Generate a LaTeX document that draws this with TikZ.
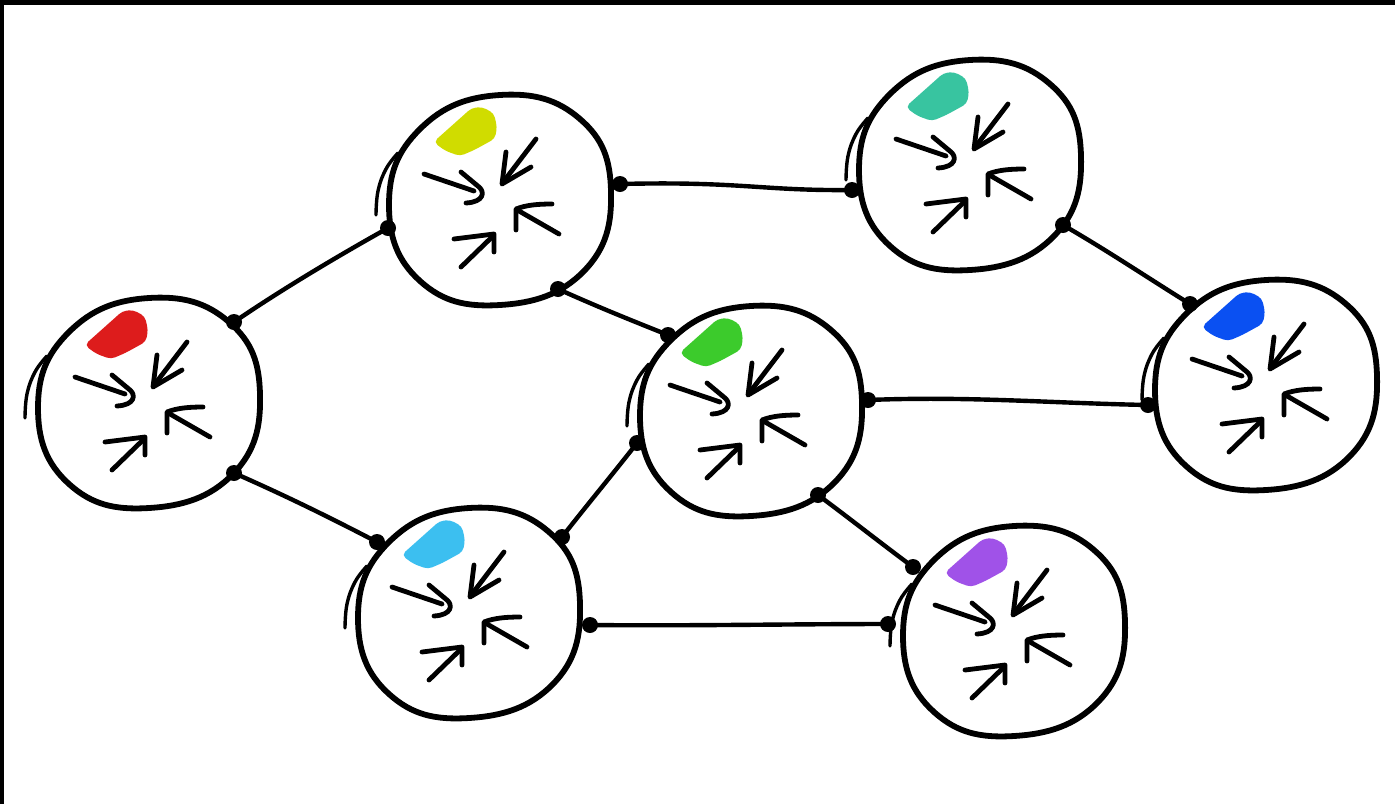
\documentclass[tikz,border=0pt]{standalone}
\begin{document}
\definecolor{cred}{HTML}{DD1C1C}
\definecolor{cyel}{HTML}{D0DC00}
\definecolor{cteal}{HTML}{38C4A0}
\definecolor{cgreen}{HTML}{3CCB2C}
\definecolor{cblue}{HTML}{0A50F2}
\definecolor{ccyan}{HTML}{3CBFF0}
\definecolor{cpurp}{HTML}{A052E8}
\tikzset{
  ring/.style={line width=2.9pt, line join=round},
  hair/.style={line width=1.7pt, line cap=round},
  arw/.style={line width=2.4pt, line cap=round, line join=round},
  link/.style={line width=2.2pt, line cap=round},
  blob/.style={fill=black},
}
\newcommand\drawunit[5]{%
  \coordinate (#1) at (#2,#3);
  \begin{scope}[shift={(#2+#4,#3)}]
    \draw[ring] plot[smooth cycle, tension=0.75] coordinates
      {(0,-104) (80,-80) (111,-8) (84,72) (0,106) (-80,82) (-111,6) (-80,-70)};
    \draw[hair] plot[smooth, tension=0.7] coordinates
      {(-124,16) (-122,-8) (-114,-30) (-102,-46)};
  \end{scope}
  \begin{scope}[shift={(#2,#3)}]
    \fill[#5, draw=#5, line width=1pt, rounded corners=2pt]
      (-63,-57) -- (-26,-90) -- (-16,-91) -- (-5,-85) -- (-2,-72) -- (-4,-61)
      -- (-24,-50) -- (-38,-44) -- (-52,-49) -- cycle;
    % top-right arrow
    \draw[arw] (38,-60) -- (6,-18);
    \draw[arw] (8,-47) -- (4,-15) -- (33,-32);
    % left arrow
    \draw[arw] (-74,-25) -- (-24,-8);
    \draw[arw] (-37,-27) -- (-19,-12) .. controls (-13,-7) and (-14,3) .. (-32,4);
    % right arrow
    \draw[arw] (61,35) -- (21,12);
    \draw[arw] (54,5) .. controls (40,5) and (28,6) .. (18,10) -- (18,31);
    % bottom arrow
    \draw[arw] (-37,68) -- (-6,38);
    \draw[arw] (-44,40) -- (-4,35) -- (-4,53);
  \end{scope}
}
\begin{tikzpicture}[x=0.5pt,y=-0.5pt]
  \useasboundingbox (0,0) rectangle (1395,804);
  \fill[white] (0,0) rectangle (1395,804);
  \fill[black] (0,0) rectangle (1395,5);
  \fill[black] (0,0) rectangle (4,804);

  \drawunit{red}{149}{402}{0}{cred}
  \drawunit{yel}{498}{199}{2}{cyel}
  \drawunit{teal}{970}{164}{0}{cteal}
  \drawunit{grn}{744}{410}{7}{cgreen}
  \drawunit{blu}{1266}{384}{0}{cblue}
  \drawunit{cyn}{466}{612}{3}{ccyan}
  \drawunit{pur}{1009}{630}{5}{cpurp}

  % connector end points
  \coordinate (ryA) at (234,322);  \coordinate (ryB) at (388,228);
  \coordinate (rcA) at (234,473);  \coordinate (rcB) at (377,542);
  \coordinate (ytA) at (620,184);  \coordinate (ytB) at (852,190);
  \coordinate (ygA) at (558,289);  \coordinate (ygB) at (668,335);
  \coordinate (tbA) at (1063,225); \coordinate (tbB) at (1190,304);
  \coordinate (gbA) at (868,400);  \coordinate (gbB) at (1148,405);
  \coordinate (gcA) at (637,443);  \coordinate (gcB) at (562,537);
  \coordinate (gpA) at (818,495);  \coordinate (gpB) at (913,567);
  \coordinate (cpA) at (590,625);  \coordinate (cpB) at (888,624);

  \draw[link] (ryA) .. controls +(50,-34) and +(-50,28) .. (ryB);
  \draw[link] (rcA) .. controls +(50,22) and +(-50,-26) .. (rcB);
  \draw[link] (ytA) .. controls +(120,-3) and +(-90,1) .. (ytB);
  \draw[link] (ygA) .. controls +(40,18) and +(-40,-16) .. (ygB);
  \draw[link] (tbA) .. controls +(45,26) and +(-45,-28) .. (tbB);
  \draw[link] (gbA) .. controls +(100,-4) and +(-100,-2) .. (gbB);
  \draw[link] (gcA) .. controls +(-25,32) and +(25,-32) .. (gcB);
  \draw[link] (gpA) .. controls +(35,26) and +(-35,-26) .. (gpB);
  \draw[link] (cpA) .. controls +(100,1) and +(-100,0) .. (cpB);

  \foreach \p in {ryA,ryB,rcA,rcB,ytA,ytB,ygA,ygB,tbA,tbB,gbA,gbB,gcA,gcB,gpA,gpB,cpA,cpB}
    \fill[blob] (\p) circle[radius=4pt];
\end{tikzpicture}
\end{document}
